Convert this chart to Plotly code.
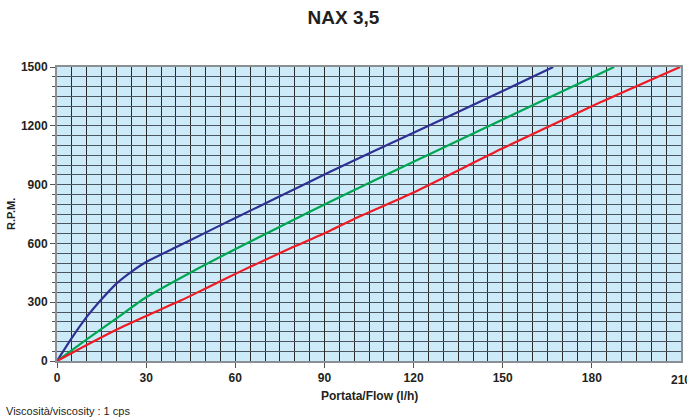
import plotly.graph_objects as go

title_text = "NAX 3,5"
x_title = "Portata/Flow (l/h)"
y_title = "R.P.M."
note_text = "Viscosità/viscosity : 1 cps"

x_ticks = [0, 30, 60, 90, 120, 150, 180, 210]
y_ticks = [0, 300, 600, 900, 1200, 1500]

blue_flow = [0, 5, 10, 15, 20, 25, 30, 40, 50, 60, 75, 91.9, 120, 150, 167]
blue_rpm = [0, 118, 225, 315, 395, 455, 505, 580, 655, 730, 840, 966, 1165, 1377, 1500]

green_flow = [0, 10, 20, 30, 45, 61.6, 75, 91.9, 120, 150, 159.2, 187.5]
green_rpm = [0, 110, 217, 325, 452, 583, 685, 813, 1016, 1232, 1298, 1500]

red_flow = [0, 10, 20, 30, 42, 50, 61.6, 70, 80, 91.9, 100, 120, 150, 180, 209.7]
red_rpm = [0, 82, 160, 230, 311, 370, 456, 515, 585, 665, 725, 860, 1085, 1300, 1500]

series = [
    ("blue", blue_flow, blue_rpm, "#2e3192"),
    ("green", green_flow, green_rpm, "#00a651"),
    ("red", red_flow, red_rpm, "#ed1c24"),
]

fig = go.Figure()
for name, xs, ys, col in series:
    fig.add_trace(go.Scatter(x=xs, y=ys, mode="lines", name=name,
                             line=dict(color=col, width=2.2, shape="spline", smoothing=0.6),
                             showlegend=False))

font_family = "Liberation Sans, Arial, sans-serif"
PW, PH = 624, 294

fig.update_layout(
    width=687, height=419,
    margin=dict(l=57, r=6, t=67, b=58, autoexpand=False),
    paper_bgcolor="white",
    plot_bgcolor="#cdeaf9",
    font=dict(family=font_family, color="#231f20"),
    title=dict(text="<b>" + title_text + "</b>", x=0.5, xanchor="center",
               y=0.958, yanchor="middle", font=dict(size=19, color="#231f20")),
)

fig.update_xaxes(
    range=[0, 210], tickvals=x_ticks[:-1], ticktext=["<b>%d</b>" % v for v in x_ticks[:-1]],
    tickfont=dict(size=12), ticks="outside", ticklen=5, tickcolor="#555",
    showgrid=True, gridcolor="#2a2a2a", gridwidth=1,
    minor=dict(dtick=5, showgrid=True, gridcolor="#2a2a2a", gridwidth=1, ticks=""),
    showline=True, linecolor="#8a8f94", linewidth=2, mirror=True,
    zeroline=False, automargin=False,
)
fig.update_yaxes(
    range=[0, 1500], tickvals=y_ticks, ticktext=["<b>%d</b>" % v for v in y_ticks],
    tickfont=dict(size=12), ticks="outside", ticklen=5, tickcolor="#555",
    showgrid=True, gridcolor="#4b5560", gridwidth=1,
    minor=dict(dtick=50, showgrid=True, gridcolor="#4b5560", gridwidth=1,
               ticks="outside", ticklen=3, tickcolor="#555"),
    showline=True, linecolor="#8a8f94", linewidth=2, mirror=True,
    zeroline=False, automargin=False,
)

# last x tick label (clipped at the right edge as in the reference)
fig.add_annotation(text="<b>%d</b>" % x_ticks[-1], xref="x", yref="paper",
                   x=x_ticks[-1], y=-19/PH, xanchor="center", yanchor="middle",
                   showarrow=False, font=dict(size=12, color="#231f20"))
# axis titles
fig.add_annotation(text="<b>" + x_title + "</b>", xref="paper", yref="paper",
                   x=0.5, y=-35/PH, xanchor="center", yanchor="middle",
                   showarrow=False, font=dict(size=12, color="#231f20"))
fig.add_annotation(text="<b>" + y_title + "</b>", xref="paper", yref="paper",
                   x=-46/PW, y=0.5, xanchor="center", yanchor="middle", textangle=-90,
                   showarrow=False, font=dict(size=11, color="#231f20"))
fig.add_annotation(text=note_text, xref="paper", yref="paper",
                   x=-53/PW, y=-50/PH, xanchor="left", yanchor="middle",
                   showarrow=False, font=dict(size=11, color="#231f20"))

fig.write_html("out.html", config={"displayModeBar": False},
               post_script="document.body.style.margin='0';document.body.style.overflow='hidden';")
